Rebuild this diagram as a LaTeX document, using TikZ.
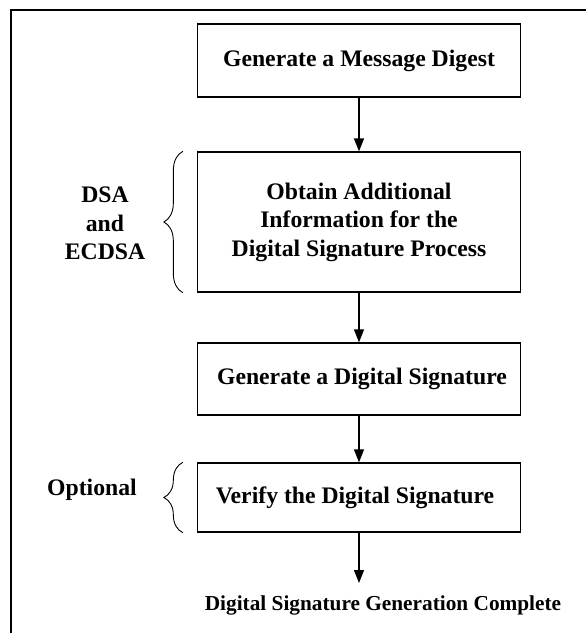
\documentclass[tikz,border=0pt]{standalone}
\usepackage{fontspec}
\setmainfont{Liberation Serif}
\usetikzlibrary{arrows.meta,decorations.pathreplacing}

\tikzset{
	stepbox/.style={draw,line width=1.3pt,minimum width=323pt,inner sep=0pt,align=center},
	flow/.style={-{Triangle[length=13pt,width=10pt]},line width=1.3pt},
	curly/.style={decorate,decoration={brace,amplitude=#1},line width=0.9pt}
}

\begin{document}
\begin{tikzpicture}[x=1pt,y=-1pt,font=\bfseries\fontsize{23.7}{28.5}\selectfont]
	\useasboundingbox (0,0) rectangle (586,633);
	\draw [line width=2pt] (11,633) -- (11,10) -- (586,10);
	
	
	
	% boxes
	\node[stepbox,minimum height=73pt] (digest) at (359,60.5) {Generate a Message Digest};
	\node[stepbox,minimum height=140pt] (obtain) at (359,222) {Obtain Additional\\Information for the\\Digital Signature Process};
	\node[stepbox,minimum height=72pt] (sign) at (359,379) {\hspace{6pt}Generate a Digital Signature};
	\node[stepbox,minimum height=69pt] (verify) at (359,497.5) {Verify the Digital Signature\hspace{8pt}};
	
	\coordinate (done) at (359,583);
	\node[font=\bfseries\fontsize{21.3}{26}\selectfont] (complete) at (383,605) {Digital Signature Generation Complete};
	
	
	
	% arrows
	\draw [flow] (digest) -- (obtain);
	\draw [flow] (obtain) -- (sign);
	\draw [flow] (sign) -- (verify);
	\draw [flow] (verify) -- (done);
	
	
	
	% braces and what they mark
	\draw [curly=19pt] ([xshift=-14pt]obtain.south west) -- ([xshift=-14pt]obtain.north west);
	\draw [curly=19pt] ([xshift=-14pt]verify.south west) -- ([xshift=-14pt]verify.north west);
	
	\node[align=center] (dsa) at (105,223.5) {DSA\\and\\ECDSA};
	\node (optional) at (92,490) {Optional};
	 
\end{tikzpicture}
\end{document}
